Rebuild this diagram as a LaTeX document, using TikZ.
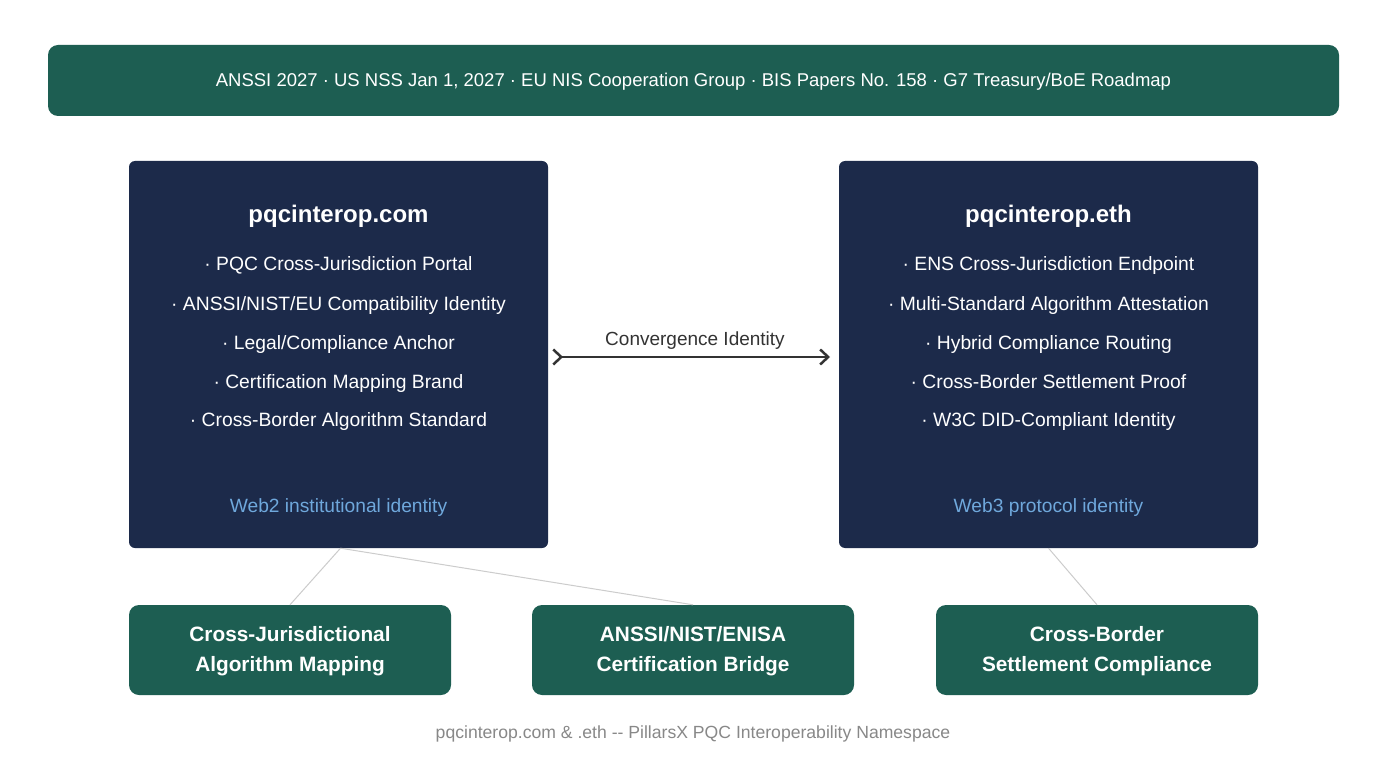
\documentclass[tikz,border=0pt]{standalone}
\usepackage{fontspec}
\setmainfont{Liberation Sans}
\usetikzlibrary{arrows.meta}
\definecolor{bannergreen}{HTML}{1D5E52}
\definecolor{navy}{HTML}{1C2A4A}
\definecolor{webblue}{HTML}{6FA8DC}
\definecolor{linegray}{HTML}{CCCCCC}
\definecolor{arrowgray}{HTML}{333333}
\definecolor{footgray}{HTML}{888888}
\tikzset{
  banner/.style={fill=bannergreen, rounded corners=10pt, draw=none},
  navybox/.style={fill=navy, rounded corners=6pt, draw=none},
  greenbox/.style={fill=bannergreen, rounded corners=10pt, draw=none},
  bannertext/.style={text=white, font=\fontsize{18.5}{22}\selectfont},
  titletext/.style={text=white, font=\fontsize{24}{28}\selectfont\bfseries},
  bullettext/.style={text=white, font=\fontsize{19.3}{23}\selectfont, text height=14pt, text depth=4pt},
  idtext/.style={text=webblue, font=\fontsize{19.2}{23}\selectfont},
  boxtext/.style={text=white, font=\fontsize{20.8}{30}\selectfont\bfseries, align=center},
  conn/.style={draw=linegray, line width=1pt},
  mainarrow/.style={draw=arrowgray, line width=2.5pt, {Straight Barb[reversed,length=8pt,width=15pt]}-{Straight Barb[length=8pt,width=15pt]}},
  labeltext/.style={text=arrowgray, font=\fontsize{19}{23}\selectfont},
  foottext/.style={text=footgray, font=\fontsize{17.6}{21}\selectfont},
}
\begin{document}
\begin{tikzpicture}[x=1pt,y=-1pt]
\fill[white] (0,0) rectangle (1388,775);
\useasboundingbox (0,0) rectangle (1388,775);

% banner
\fill[banner] (48,45) rectangle (1339,116);
\node[bannertext] (banner) at (693.5,82) {ANSSI 2027 · US NSS Jan 1, 2027 · EU NIS Cooperation Group · BIS Papers No. 158 · G7 Treasury/BoE Roadmap};

% left box
\node[navybox, minimum width=419pt, minimum height=387pt, inner sep=0pt] (left) at (338.5,354.5) {};
\node[titletext] (ltitle) at (338.5,216) {pqcinterop.com};
\node[bullettext] (l1) at (338.5,266) {· PQC Cross-Jurisdiction Portal};
\node[bullettext] (l2) at (338.5,305) {· ANSSI/NIST/EU Compatibility Identity};
\node[bullettext] (l3) at (338.5,344) {· Legal/Compliance Anchor};
\node[bullettext] (l4) at (338.5,383) {· Certification Mapping Brand};
\node[bullettext] (l5) at (338.5,421) {· Cross-Border Algorithm Standard};
\node[idtext] (lid) at (338.5,508) {Web2 institutional identity};

% right box
\node[navybox, minimum width=419pt, minimum height=387pt, inner sep=0pt] (right) at (1048.5,354.5) {};
\node[titletext] (rtitle) at (1048.5,216) {pqcinterop.eth};
\node[bullettext] (r1) at (1048.5,266) {· ENS Cross-Jurisdiction Endpoint};
\node[bullettext] (r2) at (1048.5,305) {· Multi-Standard Algorithm Attestation};
\node[bullettext] (r3) at (1048.5,344) {· Hybrid Compliance Routing};
\node[bullettext] (r4) at (1048.5,383) {· Cross-Border Settlement Proof};
\node[bullettext] (r5) at (1048.5,421) {· W3C DID-Compliant Identity};
\node[idtext] (rid) at (1048.5,508) {Web3 protocol identity};

% arrow
\coordinate (as) at (552,357);
\coordinate (ae) at (830,357);
\draw[mainarrow] (as) -- (ae);
\node[labeltext] (alabel) at (695,341) {Convergence Identity};

% bottom boxes
\node[greenbox, minimum width=322pt, minimum height=90pt, inner sep=0pt] (b1) at (290,650) {};
\node[boxtext] at (290,651) {Cross-Jurisdictional\\Algorithm Mapping};
\node[greenbox, minimum width=322pt, minimum height=90pt, inner sep=0pt] (b2) at (693,650) {};
\node[boxtext] at (693,651) {ANSSI/NIST/ENISA\\Certification Bridge};
\node[greenbox, minimum width=322pt, minimum height=90pt, inner sep=0pt] (b3) at (1097,650) {};
\node[boxtext] at (1097,651) {Cross-Border\\Settlement Compliance};

% connectors
\draw[conn] ([xshift=2pt]left.south) -- (b1.north);
\draw[conn] ([xshift=2pt]left.south) -- (b2.north);
\draw[conn] (right.south) -- (b3.north);

% footer
\node[foottext] (foot) at (693,734) {pqcinterop.com \& .eth -{}- PillarsX PQC Interoperability Namespace};
\end{tikzpicture}
\end{document}
